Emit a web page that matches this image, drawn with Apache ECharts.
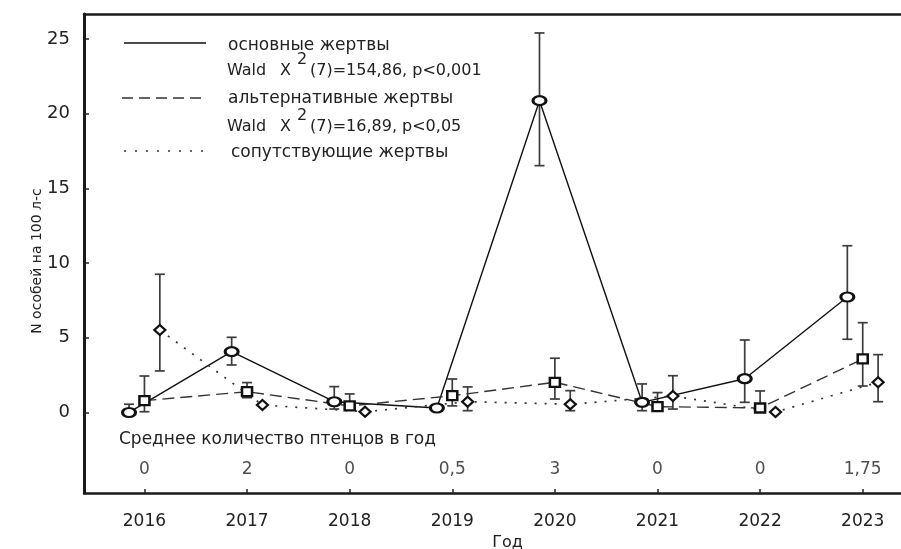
<!DOCTYPE html>
<html>
<head>
<meta charset="utf-8">
<script src="https://cdn.jsdelivr.net/npm/echarts@6/dist/echarts.min.js"></script>
<style>
  html, body { margin: 0; padding: 0; background: #ffffff; overflow: hidden; }
  #chart { width: 901px; height: 549px; }
</style>
</head>
<body>
<div id="chart"></div>
<script>
// Years of observation
const years = [2016, 2017, 2018, 2019, 2020, 2021, 2022, 2023];
const yTicks = [0, 5, 10, 15, 20, 25];

// Main prey (основные жертвы): mean and interval bounds
const mainMean = [0.0, 4.07, 0.72, 0.30, 20.87, 0.68, 2.26, 7.73];
const mainLow  = [0.0, 3.18, 0.23, null, 16.52, 0.12, 0.68, 4.90];
const mainHigh = [0.55, 5.03, 1.73, null, 25.40, 1.91, 4.85, 11.16];

// Alternative prey (альтернативные жертвы)
const altMean = [0.79, 1.39, 0.44, 1.12, 2.02, 0.39, 0.30, 3.58];
const altLow  = [0.05, 0.99, 0.17, 0.44, 0.90, 0.17, 0.17, 1.77];
const altHigh = [2.44, 2.00, 1.24, 2.24, 3.63, 1.33, 1.44, 6.01];

// Accompanying prey (сопутствующие жертвы)
const accMean = [5.52, 0.50, 0.05, 0.72, 0.55, 1.10, 0.03, 2.02];
const accLow  = [2.78, null, null, 0.12, 0.12, 0.23, null, 0.72];
const accHigh = [9.25, null, null, 1.71, 1.46, 2.46, null, 3.87];

// Mean number of chicks per year
const chicks = ['0', '2', '0', '0,5', '3', '0', '0', '1,75'];

// Horizontal shift of each group within a year, in years
const SHIFT_MAIN = -0.15, SHIFT_ALT = 0, SHIFT_ACC = 0.15;
const CHICK_ROW = -3.85;

const FONT = 'DejaVu Sans';
const TXT = '#222222';
const INK = '#111111';

const ellipse = 'path://M0,5a7,5 0 1,0 14,0a7,5 0 1,0 -14,0z';

function points(mean, shift) {
  return years.map((y, i) => [y + shift, mean[i]]);
}
function bars(low, high, shift) {
  const out = [];
  years.forEach((y, i) => {
    if (low[i] !== null && high[i] !== null) out.push([y + shift, low[i], high[i]]);
  });
  return out;
}
function renderErr(params, api) {
  const x = api.value(0);
  const top = api.coord([x, api.value(2)]);
  const bot = api.coord([x, api.value(1)]);
  const w = 5;
  const st = { stroke: '#3c3c3c', lineWidth: 1.7 };
  return {
    type: 'group',
    children: [
      { type: 'line', shape: { x1: top[0], y1: top[1], x2: bot[0], y2: bot[1] }, style: st },
      { type: 'line', shape: { x1: top[0] - w, y1: top[1], x2: top[0] + w, y2: top[1] }, style: st },
      { type: 'line', shape: { x1: bot[0] - w, y1: bot[1], x2: bot[0] + w, y2: bot[1] }, style: st }
    ]
  };
}
function errSeries(data) {
  return { type: 'custom', data: data, renderItem: renderErr, z: 2, silent: true, clip: false };
}

const chart = echarts.init(document.getElementById('chart'));

const gText = (x, y, text, size) => ({
  type: 'text', x: x, y: y,
  style: { text: text, fill: TXT, font: (size || 17) + 'px "' + FONT + '"', align: 'left', verticalAlign: 'middle' }
});

const frameLine = { show: true, onZero: false, lineStyle: { color: '#1a1a1a', width: 2.5 } };
const X_MIN = 2015.411, X_MAX = 2023.49;

chart.setOption({
  animation: false,
  backgroundColor: '#ffffff',
  grid: { left: 84, top: 14, right: -12, bottom: 56, outerBoundsMode: 'none' },
  xAxis: [{
    type: 'value', min: X_MIN, max: X_MAX,
    name: 'Год', nameLocation: 'middle', nameGap: 40,
    nameTextStyle: { fontFamily: FONT, fontSize: 16, color: TXT, padding: [0, 0, 0, 18] },
    axisLine: frameLine,
    splitLine: { show: false },
    axisTick: { show: true, inside: true, length: 4, customValues: years, lineStyle: { color: '#222', width: 1.5 } },
    axisLabel: { customValues: years, margin: 20, fontFamily: FONT, fontSize: 17, color: TXT, formatter: v => String(v) }
  }, {
    type: 'value', position: 'top', min: X_MIN, max: X_MAX,
    axisLine: frameLine, axisTick: { show: false }, axisLabel: { show: false }, splitLine: { show: false }
  }],
  yAxis: {
    type: 'value', min: -5.39, max: 26.67,
    axisLine: { show: true, onZero: false, lineStyle: { color: '#1a1a1a', width: 3 } },
    splitLine: { show: false },
    axisTick: { show: true, inside: true, length: 5, customValues: yTicks, lineStyle: { color: '#222', width: 1.5 } },
    axisLabel: { customValues: yTicks, margin: 14, fontFamily: FONT, fontSize: 18, color: TXT, formatter: v => String(v) }
  },
  series: [
    errSeries(bars(mainLow, mainHigh, SHIFT_MAIN)),
    errSeries(bars(altLow, altHigh, SHIFT_ALT)),
    errSeries(bars(accLow, accHigh, SHIFT_ACC)),
    {
      name: 'основные жертвы', type: 'line', data: points(mainMean, SHIFT_MAIN), z: 4,
      symbol: ellipse, symbolSize: [13, 9], showAllSymbol: true,
      lineStyle: { color: INK, width: 1.4, type: 'solid' },
      itemStyle: { color: '#ffffff', borderColor: INK, borderWidth: 2.6 }
    },
    {
      name: 'альтернативные жертвы', type: 'line', data: points(altMean, SHIFT_ALT), z: 4,
      symbol: 'rect', symbolSize: [10, 9], showAllSymbol: true,
      lineStyle: { color: '#333333', width: 1.4, type: [12, 6] },
      itemStyle: { color: '#ffffff', borderColor: INK, borderWidth: 2.4 }
    },
    {
      name: 'сопутствующие жертвы', type: 'line', data: points(accMean, SHIFT_ACC), z: 4,
      symbol: 'diamond', symbolSize: [11, 10], showAllSymbol: true,
      lineStyle: { color: '#333333', width: 1.7, type: [2, 8] },
      itemStyle: { color: '#ffffff', borderColor: INK, borderWidth: 2.2 }
    },
    {
      name: 'птенцы', type: 'scatter', symbolSize: 0, silent: true,
      data: years.map((y, i) => ({ value: [y, CHICK_ROW], label: { formatter: chicks[i] } })),
      label: { show: true, position: 'inside', fontFamily: FONT, fontSize: 17, color: TXT }
    }
  ],
  graphic: [
    // legend samples
    { type: 'line', shape: { x1: 124, y1: 43, x2: 206, y2: 43 }, style: { stroke: INK, lineWidth: 1.4 } },
    { type: 'line', shape: { x1: 122, y1: 98, x2: 206, y2: 98 }, style: { stroke: '#333', lineWidth: 1.4, lineDash: [11, 6] } },
    { type: 'line', shape: { x1: 124, y1: 151, x2: 204, y2: 151 }, style: { stroke: '#333', lineWidth: 1.7, lineDash: [2, 9] } },
    gText(228, 46, 'основные жертвы'),
    gText(227, 71, 'Wald', 16),
    gText(280, 71, 'X', 16),
    gText(297, 60, '2', 16),
    gText(310, 71, '(7)=154,86, p<0,001', 16),
    gText(228, 99, 'альтернативные жертвы'),
    gText(227, 127, 'Wald', 16),
    gText(280, 127, 'X', 16),
    gText(297, 116, '2', 16),
    gText(310, 127, '(7)=16,89, p<0,05', 16),
    gText(231, 153, 'сопутствующие жертвы'),
    gText(119, 440, 'Среднее количество птенцов в год'),
    // y axis title
    {
      type: 'text', x: 37, y: 261, rotation: Math.PI / 2,
      style: { text: 'N особей на 100 л-с', fill: TXT, font: '14px "' + FONT + '"', align: 'center', verticalAlign: 'middle' }
    }
  ]
});
</script>
</body>
</html>
